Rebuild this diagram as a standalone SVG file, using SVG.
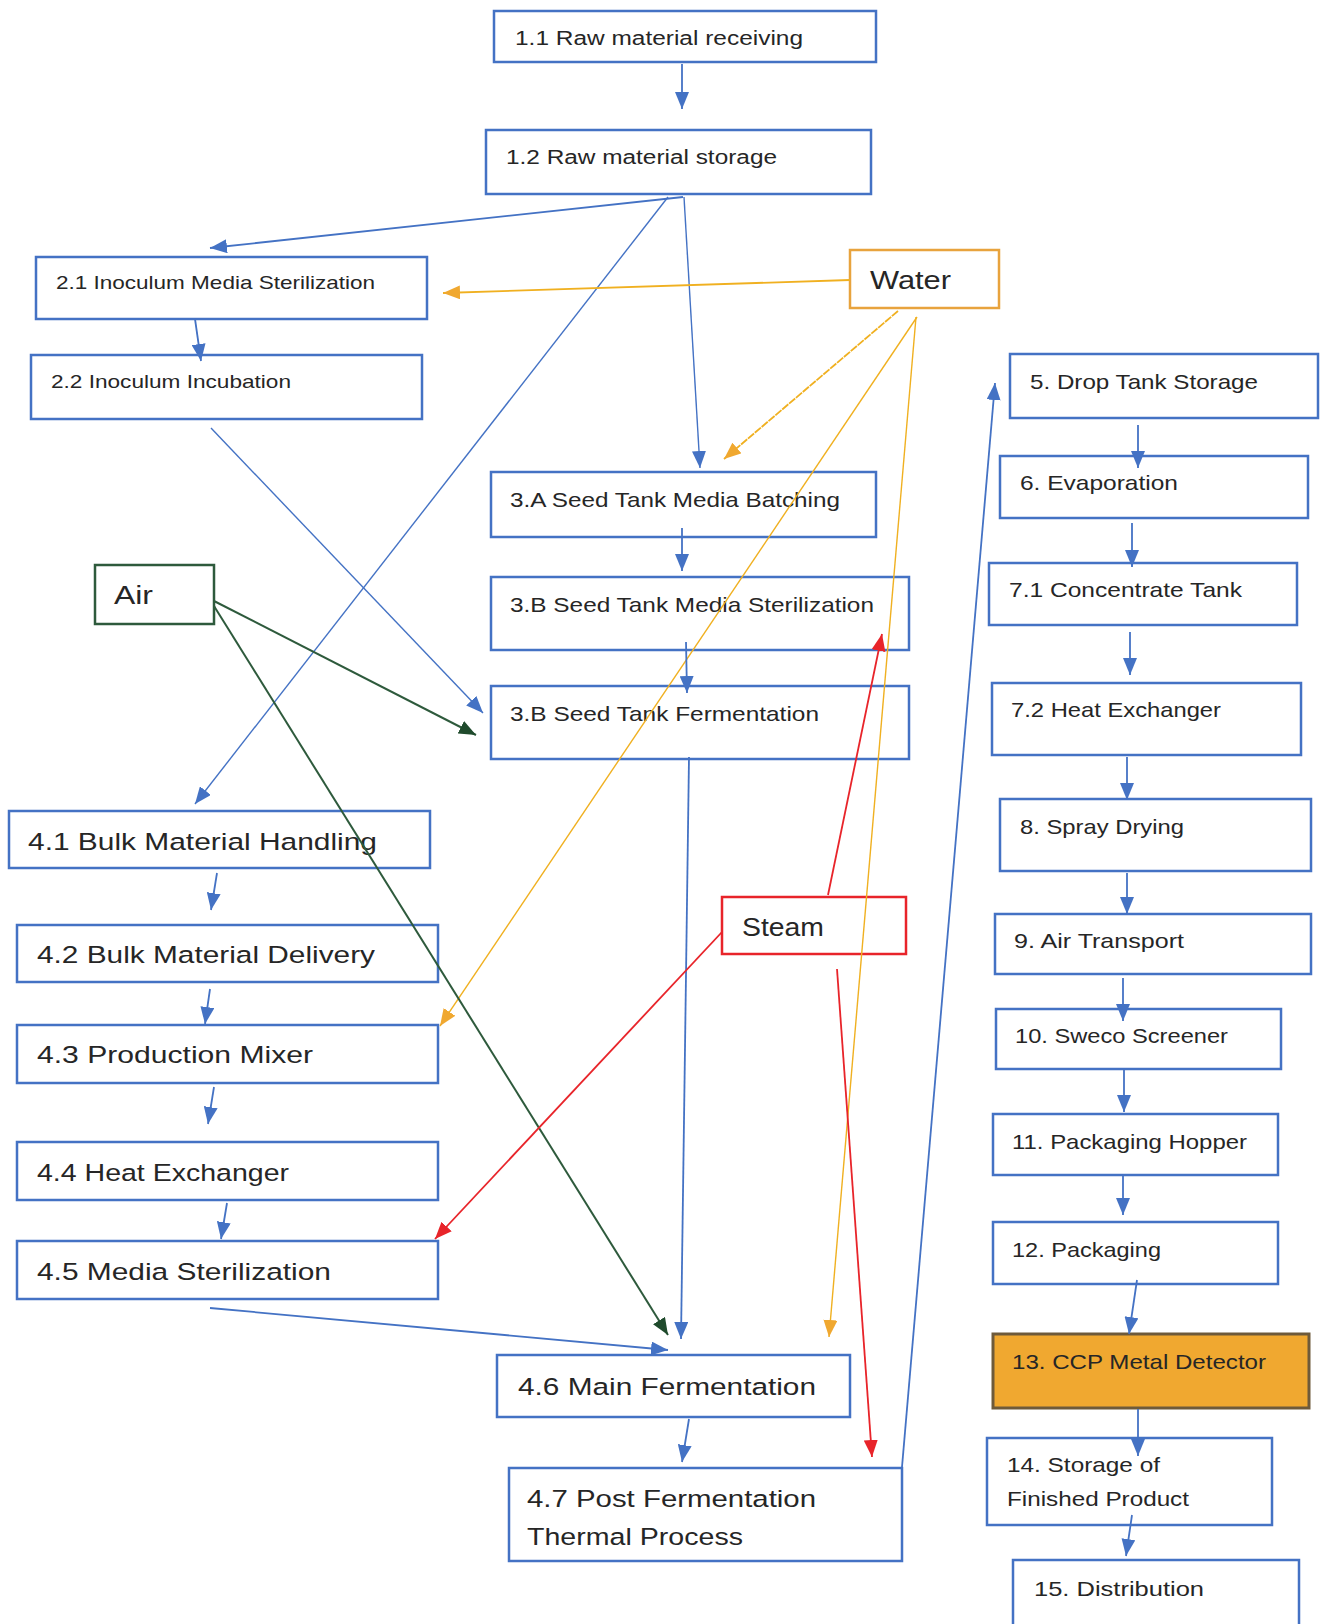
<svg xmlns="http://www.w3.org/2000/svg" width="1321" height="1624" viewBox="0 0 1321 1624">
<style>
  .n rect { fill: #ffffff; stroke: #4472c4; stroke-width: 2.5; }
  .t { font-family: "Liberation Sans", Arial, sans-serif; fill: #262626; }
  .s1 { font-size: 20px; }
  .s2 { font-size: 18.5px; }
  .s3 { font-size: 21px; }
  .s4 { font-size: 24.5px; }
  .s5 { font-size: 25px; }
  .cb { stroke: #4472c4; stroke-width: 1.8; fill: none; marker-end: url(#ab); }
  .co { stroke: #f0b020; stroke-width: 1.8; fill: none; marker-end: url(#ao); }
  .cr { stroke: #e8242a; stroke-width: 1.8; fill: none; marker-end: url(#ar); }
  .cg { stroke: #2e5a3c; stroke-width: 2; fill: none; marker-end: url(#ag); }
</style>
<defs>
  <marker id="ab" markerUnits="userSpaceOnUse" markerWidth="18" markerHeight="14" refX="17" refY="7" orient="auto"><path d="M0,0 L17,7 L0,14 z" fill="#4472c4"/></marker>
  <marker id="ao" markerUnits="userSpaceOnUse" markerWidth="18" markerHeight="14" refX="17" refY="7" orient="auto"><path d="M0,0 L17,7 L0,14 z" fill="#f0a830"/></marker>
  <marker id="ar" markerUnits="userSpaceOnUse" markerWidth="18" markerHeight="14" refX="17" refY="7" orient="auto"><path d="M0,0 L17,7 L0,14 z" fill="#e8242a"/></marker>
  <marker id="ag" markerUnits="userSpaceOnUse" markerWidth="18" markerHeight="14" refX="17" refY="7" orient="auto"><path d="M0,0 L17,7 L0,14 z" fill="#1f4a2c"/></marker>
</defs>
<rect x="0" y="0" width="1321" height="1624" fill="#ffffff"/>

<g id="n11" class="n"><rect x="494" y="11" width="382" height="51"/><text class="t s1" x="515" y="45" textLength="288" lengthAdjust="spacingAndGlyphs">1.1 Raw material receiving</text></g>
<g id="n12" class="n"><rect x="486" y="130" width="385" height="64"/><text class="t s1" x="506" y="164" textLength="271" lengthAdjust="spacingAndGlyphs">1.2 Raw material storage</text></g>
<g id="n21" class="n"><rect x="36" y="257" width="391" height="62"/><text class="t s2" x="56" y="289" textLength="319" lengthAdjust="spacingAndGlyphs">2.1 Inoculum Media Sterilization</text></g>
<g id="n22" class="n"><rect x="31" y="355" width="391" height="64"/><text class="t s2" x="51" y="388" textLength="240" lengthAdjust="spacingAndGlyphs">2.2 Inoculum Incubation</text></g>
<g id="water" class="n"><rect x="850" y="250" width="149" height="58" style="stroke:#e8a33d"/><text class="t s5" x="870" y="289" textLength="81" lengthAdjust="spacingAndGlyphs">Water</text></g>
<g id="n5" class="n"><rect x="1010" y="354" width="308" height="64"/><text class="t s3" x="1030" y="389" textLength="228" lengthAdjust="spacingAndGlyphs">5. Drop Tank Storage</text></g>
<g id="n3a" class="n"><rect x="491" y="472" width="385" height="65"/><text class="t s3" x="510" y="507" textLength="330" lengthAdjust="spacingAndGlyphs">3.A Seed Tank Media Batching</text></g>
<g id="n6" class="n"><rect x="1000" y="456" width="308" height="62"/><text class="t s3" x="1020" y="490" textLength="158" lengthAdjust="spacingAndGlyphs">6. Evaporation</text></g>
<g id="air" class="n"><rect x="95" y="565" width="119" height="59" style="stroke:#2e5a3c"/><text class="t s5" x="114" y="604" textLength="39" lengthAdjust="spacingAndGlyphs">Air</text></g>
<g id="n3bs" class="n"><rect x="491" y="577" width="418" height="73"/><text class="t s3" x="510" y="612" textLength="364" lengthAdjust="spacingAndGlyphs">3.B Seed Tank Media Sterilization</text></g>
<g id="n71" class="n"><rect x="989" y="563" width="308" height="62"/><text class="t s3" x="1009" y="597" textLength="233" lengthAdjust="spacingAndGlyphs">7.1 Concentrate Tank</text></g>
<g id="n3bf" class="n"><rect x="491" y="686" width="418" height="73"/><text class="t s3" x="510" y="721" textLength="309" lengthAdjust="spacingAndGlyphs">3.B Seed Tank Fermentation</text></g>
<g id="n72" class="n"><rect x="992" y="683" width="309" height="72"/><text class="t s3" x="1011" y="717" textLength="210" lengthAdjust="spacingAndGlyphs">7.2 Heat Exchanger</text></g>
<g id="n41" class="n"><rect x="9" y="811" width="421" height="57"/><text class="t s4" x="28" y="850" textLength="349" lengthAdjust="spacingAndGlyphs">4.1 Bulk Material Handling</text></g>
<g id="n8" class="n"><rect x="1000" y="799" width="311" height="72"/><text class="t s3" x="1020" y="834" textLength="164" lengthAdjust="spacingAndGlyphs">8. Spray Drying</text></g>
<g id="steam" class="n"><rect x="722" y="897" width="184" height="57" style="stroke:#e8242a"/><text class="t s5" x="742" y="936" textLength="82" lengthAdjust="spacingAndGlyphs">Steam</text></g>
<g id="n42" class="n"><rect x="17" y="925" width="421" height="57"/><text class="t s4" x="37" y="963" textLength="338" lengthAdjust="spacingAndGlyphs">4.2 Bulk Material Delivery</text></g>
<g id="n9" class="n"><rect x="995" y="914" width="316" height="60"/><text class="t s3" x="1014" y="948" textLength="170" lengthAdjust="spacingAndGlyphs">9. Air Transport</text></g>
<g id="n43" class="n"><rect x="17" y="1025" width="421" height="58"/><text class="t s4" x="37" y="1063" textLength="276" lengthAdjust="spacingAndGlyphs">4.3 Production Mixer</text></g>
<g id="n10" class="n"><rect x="996" y="1009" width="285" height="60"/><text class="t s3" x="1015" y="1043" textLength="213" lengthAdjust="spacingAndGlyphs">10. Sweco Screener</text></g>
<g id="n44" class="n"><rect x="17" y="1142" width="421" height="58"/><text class="t s4" x="37" y="1181" textLength="252" lengthAdjust="spacingAndGlyphs">4.4 Heat Exchanger</text></g>
<g id="n11b" class="n"><rect x="993" y="1114" width="285" height="61"/><text class="t s3" x="1012" y="1149" textLength="235" lengthAdjust="spacingAndGlyphs">11. Packaging Hopper</text></g>
<g id="n45" class="n"><rect x="17" y="1241" width="421" height="58"/><text class="t s4" x="37" y="1280" textLength="294" lengthAdjust="spacingAndGlyphs">4.5 Media Sterilization</text></g>
<g id="n12b" class="n"><rect x="993" y="1222" width="285" height="62"/><text class="t s3" x="1012" y="1257" textLength="149" lengthAdjust="spacingAndGlyphs">12. Packaging</text></g>
<g id="n46" class="n"><rect x="497" y="1355" width="353" height="62"/><text class="t s4" x="518" y="1395" textLength="298" lengthAdjust="spacingAndGlyphs">4.6 Main Fermentation</text></g>
<g id="n13" class="n"><rect x="993" y="1334" width="316" height="74" style="fill:#f0a830;stroke:#6e5a3a;stroke-width:3"/><text class="t s3" x="1012" y="1369" textLength="254" lengthAdjust="spacingAndGlyphs">13. CCP Metal Detector</text></g>
<g id="n47" class="n"><rect x="509" y="1468" width="393" height="93"/><text class="t s4" x="527" y="1507" textLength="289" lengthAdjust="spacingAndGlyphs">4.7 Post Fermentation</text><text class="t s4" x="527" y="1545" textLength="216" lengthAdjust="spacingAndGlyphs">Thermal Process</text></g>
<g id="n14" class="n"><rect x="987" y="1438" width="285" height="87"/><text class="t s3" x="1007" y="1472" textLength="153" lengthAdjust="spacingAndGlyphs">14. Storage of</text><text class="t s3" x="1007" y="1506" textLength="182" lengthAdjust="spacingAndGlyphs">Finished Product</text></g>
<g id="n15" class="n"><rect x="1013" y="1560" width="286" height="80"/><text class="t s3" x="1034" y="1596" textLength="170" lengthAdjust="spacingAndGlyphs">15. Distribution</text></g>

<g id="connectors">
  <line class="cb" x1="682" y1="64" x2="682" y2="109"/>
  <line class="cb" x1="683" y1="197" x2="210" y2="248"/>
  <line class="cb" x1="668" y1="197" x2="195" y2="804" style="stroke-width:1.4"/>
  <line class="cb" x1="684" y1="197" x2="700" y2="468" style="stroke-width:1.4"/>
  <line class="co" x1="850" y1="280" x2="443" y2="293"/>
  <line class="co" x1="898" y1="311" x2="724" y2="459" style="stroke-dasharray:8 1"/>
  <line class="co" x1="917" y1="317" x2="440" y2="1026" style="stroke-width:1.4"/>
  <line class="co" x1="916" y1="317" x2="829" y2="1337" style="stroke-width:1.4"/>
  <line class="cb" x1="195" y1="319" x2="201" y2="361"/>
  <line class="cb" x1="211" y1="428" x2="483" y2="713" style="stroke-width:1.4"/>
  <line class="cb" x1="682" y1="528" x2="682" y2="571"/>
  <line class="cb" x1="686" y1="642" x2="687" y2="693"/>
  <line class="cb" x1="689" y1="757" x2="681" y2="1339"/>
  <line class="cg" x1="214" y1="601" x2="476" y2="735"/>
  <line class="cg" x1="214" y1="606" x2="668" y2="1335"/>
  <line class="cb" x1="217" y1="873" x2="211" y2="910"/>
  <line class="cb" x1="210" y1="989" x2="205" y2="1024"/>
  <line class="cb" x1="214" y1="1087" x2="208" y2="1124"/>
  <line class="cb" x1="227" y1="1203" x2="221" y2="1239"/>
  <line class="cb" x1="210" y1="1308" x2="668" y2="1350"/>
  <line class="cb" x1="689" y1="1419" x2="682" y2="1462"/>
  <line class="cr" x1="828" y1="895" x2="882" y2="634"/>
  <line class="cr" x1="722" y1="932" x2="435" y2="1239"/>
  <line class="cr" x1="837" y1="969" x2="872" y2="1457"/>
  <line class="cb" x1="902" y1="1467" x2="995" y2="383"/>
  <line class="cb" x1="1138" y1="425" x2="1138" y2="468"/>
  <line class="cb" x1="1132" y1="523" x2="1132" y2="567"/>
  <line class="cb" x1="1130" y1="632" x2="1130" y2="675"/>
  <line class="cb" x1="1127" y1="757" x2="1127" y2="800"/>
  <line class="cb" x1="1127" y1="873" x2="1127" y2="914"/>
  <line class="cb" x1="1123" y1="978" x2="1123" y2="1021"/>
  <line class="cb" x1="1124" y1="1069" x2="1124" y2="1112"/>
  <line class="cb" x1="1123" y1="1174" x2="1123" y2="1215"/>
  <line class="cb" x1="1137" y1="1280" x2="1129" y2="1334"/>
  <line class="cb" x1="1138" y1="1409" x2="1138" y2="1456"/>
  <line class="cb" x1="1132" y1="1515" x2="1126" y2="1556"/>
</g>
</svg>
